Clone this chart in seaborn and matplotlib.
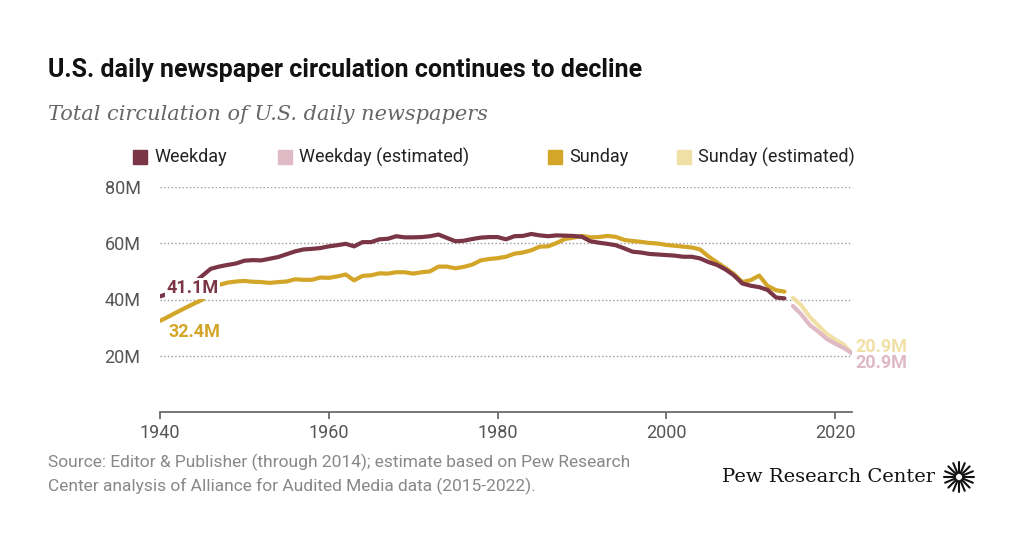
import numpy as np
import pandas as pd
import seaborn as sns
import matplotlib.pyplot as plt
from matplotlib.patches import Rectangle

sns.set_theme(style="white")
plt.rcParams['font.family'] = ['Roboto', 'DejaVu Sans']

# values in millions
years = list(range(1940, 2015))
weekday = [41.1, 42.1, 43.4, 44.4, 45.9, 48.4, 50.9, 51.7, 52.3, 52.8, 53.8, 54.0, 53.9, 54.5, 55.1, 56.1,
           57.1, 57.8, 58.0, 58.3, 58.9, 59.3, 59.8, 58.9, 60.4, 60.4, 61.4, 61.6, 62.5, 62.1, 62.1,
           62.2, 62.5, 63.1, 61.9, 60.7, 60.9, 61.5, 62.0, 62.2, 62.2, 61.4, 62.5, 62.6, 63.3, 62.8,
           62.5, 62.8, 62.7, 62.6, 62.3, 60.7, 60.2, 59.8, 59.3, 58.2, 57.0, 56.7, 56.2, 56.0, 55.8,
           55.6, 55.2, 55.2, 54.6, 53.3, 52.3, 50.7, 48.6, 45.7, 44.9, 44.4, 43.4, 40.7, 40.4]
sunday = [32.4, 33.9, 35.5, 37.0, 38.5, 39.9, 43.7, 45.2, 46.0, 46.4, 46.6, 46.3, 46.2, 45.9, 46.2, 46.4,
          47.2, 47.0, 47.0, 47.8, 47.7, 48.2, 48.9, 46.8, 48.4, 48.6, 49.3, 49.2, 49.7, 49.7, 49.2,
          49.7, 50.0, 51.7, 51.7, 51.1, 51.6, 52.4, 53.9, 54.4, 54.7, 55.2, 56.3, 56.7, 57.5, 58.8,
          58.9, 60.1, 61.5, 62.0, 62.6, 62.1, 62.2, 62.6, 62.3, 61.2, 60.8, 60.5, 60.1, 59.9, 59.4,
          59.1, 58.8, 58.5, 57.8, 55.3, 53.2, 51.2, 49.1, 46.2, 46.9, 48.5, 44.8, 43.3, 42.8]
years_est = list(range(2014, 2023))
weekday_est = [40.4, 37.7, 34.7, 30.9, 28.6, 26.0, 24.3, 22.8, 20.9]
sunday_est = [42.8, 40.6, 37.9, 33.8, 30.8, 27.8, 25.8, 24.0, 20.9]

c_wk, c_wk_est = '#7a3547', '#dfb9c3'
c_su, c_su_est = '#d3a629', '#f1e0a6'

fig = plt.figure(figsize=(10.24, 5.36), dpi=100)
ax = fig.add_axes([160/1024, 1-412/536, (852-160)/1024, (412-187)/536])

df = pd.DataFrame({'year': years, 'Weekday': weekday, 'Sunday': sunday})
de = pd.DataFrame({'year': years_est, 'Weekday': weekday_est, 'Sunday': sunday_est})
sns.lineplot(data=df, x='year', y='Sunday', color=c_su, lw=3, ax=ax)
sns.lineplot(data=df, x='year', y='Weekday', color=c_wk, lw=3, ax=ax)
sns.lineplot(data=de.iloc[1:], x='year', y='Sunday', color=c_su_est, lw=3, ax=ax)
sns.lineplot(data=de.iloc[1:], x='year', y='Weekday', color=c_wk_est, lw=3, ax=ax)

ax.set_xlim(1940, 2022)
ax.set_ylim(0, 80)
ax.set_yticks([20, 40, 60, 80])
ax.set_yticklabels(['20M', '40M', '60M', '80M'])
ax.set_xticks([1940, 1960, 1980, 2000, 2020])
ax.grid(axis='y', linestyle=':', color='#999999', lw=1)
for s in ['top', 'right', 'left']:
    ax.spines[s].set_visible(False)
ax.spines['bottom'].set_color('#666666')
ax.tick_params(axis='x', bottom=True, length=5, color='#666666', labelsize=13, labelcolor='#555555')
ax.tick_params(axis='y', length=0, labelsize=13, labelcolor='#555555', pad=14)
ax.set_xlabel('')
ax.set_ylabel('')

halo = dict(facecolor='white', edgecolor='none', pad=1)
ax.text(1940.8, 44.0, '41.1M', color=c_wk, fontsize=13, fontweight='bold', va='center', bbox=halo)
ax.text(1941, 28.4, '32.4M', color=c_su, fontsize=13, fontweight='bold', va='center')
ax.text(2022.4, 23.2, '20.9M', color=c_su_est, fontsize=13, fontweight='bold', va='center')
ax.text(2022.4, 17.6, '20.9M', color=c_wk_est, fontsize=13, fontweight='bold', va='center')

fig.text(48/1024, 1-70/536, 'U.S. daily newspaper circulation continues to decline',
         fontsize=18, fontweight='bold', va='center', color='#111111')
fig.text(48/1024, 1-115/536, 'Total circulation of U.S. daily newspapers', fontsize=15,
         style='italic', family='DejaVu Serif', color='#666666', va='center')

legend = [('Weekday', c_wk, 133), ('Weekday (estimated)', c_wk_est, 278),
          ('Sunday', c_su, 548), ('Sunday (estimated)', c_su_est, 677)]
for lab, col, x in legend:
    fig.patches.append(Rectangle((x/1024, 1-164/536), 14/1024, 14/536, color=col,
                                 transform=fig.transFigure))
    fig.text((x+21)/1024, 1-157/536, lab, fontsize=13, va='center', color='#222222')

fig.text(48/1024, 1-462/536, 'Source: Editor & Publisher (through 2014); estimate based on Pew Research',
         fontsize=12.5, color='#888888', va='center')
fig.text(48/1024, 1-486/536, 'Center analysis of Alliance for Audited Media data (2015-2022).',
         fontsize=12.5, color='#888888', va='center')
fig.text(935/1024, 1-477/536, 'Pew Research Center', fontsize=14, family='DejaVu Serif',
         ha='right', va='center', color='#111111')
ang = np.linspace(0, 2*np.pi, 16, endpoint=False)
for a in ang:
    fig.add_artist(plt.Line2D([(959+4*np.cos(a))/1024, (959+15*np.cos(a))/1024],
                              [1-(477+4*np.sin(a))/536, 1-(477+15*np.sin(a))/536],
                              color='#111111', lw=1.5, transform=fig.transFigure))

fig.savefig('out.png', dpi=100)
